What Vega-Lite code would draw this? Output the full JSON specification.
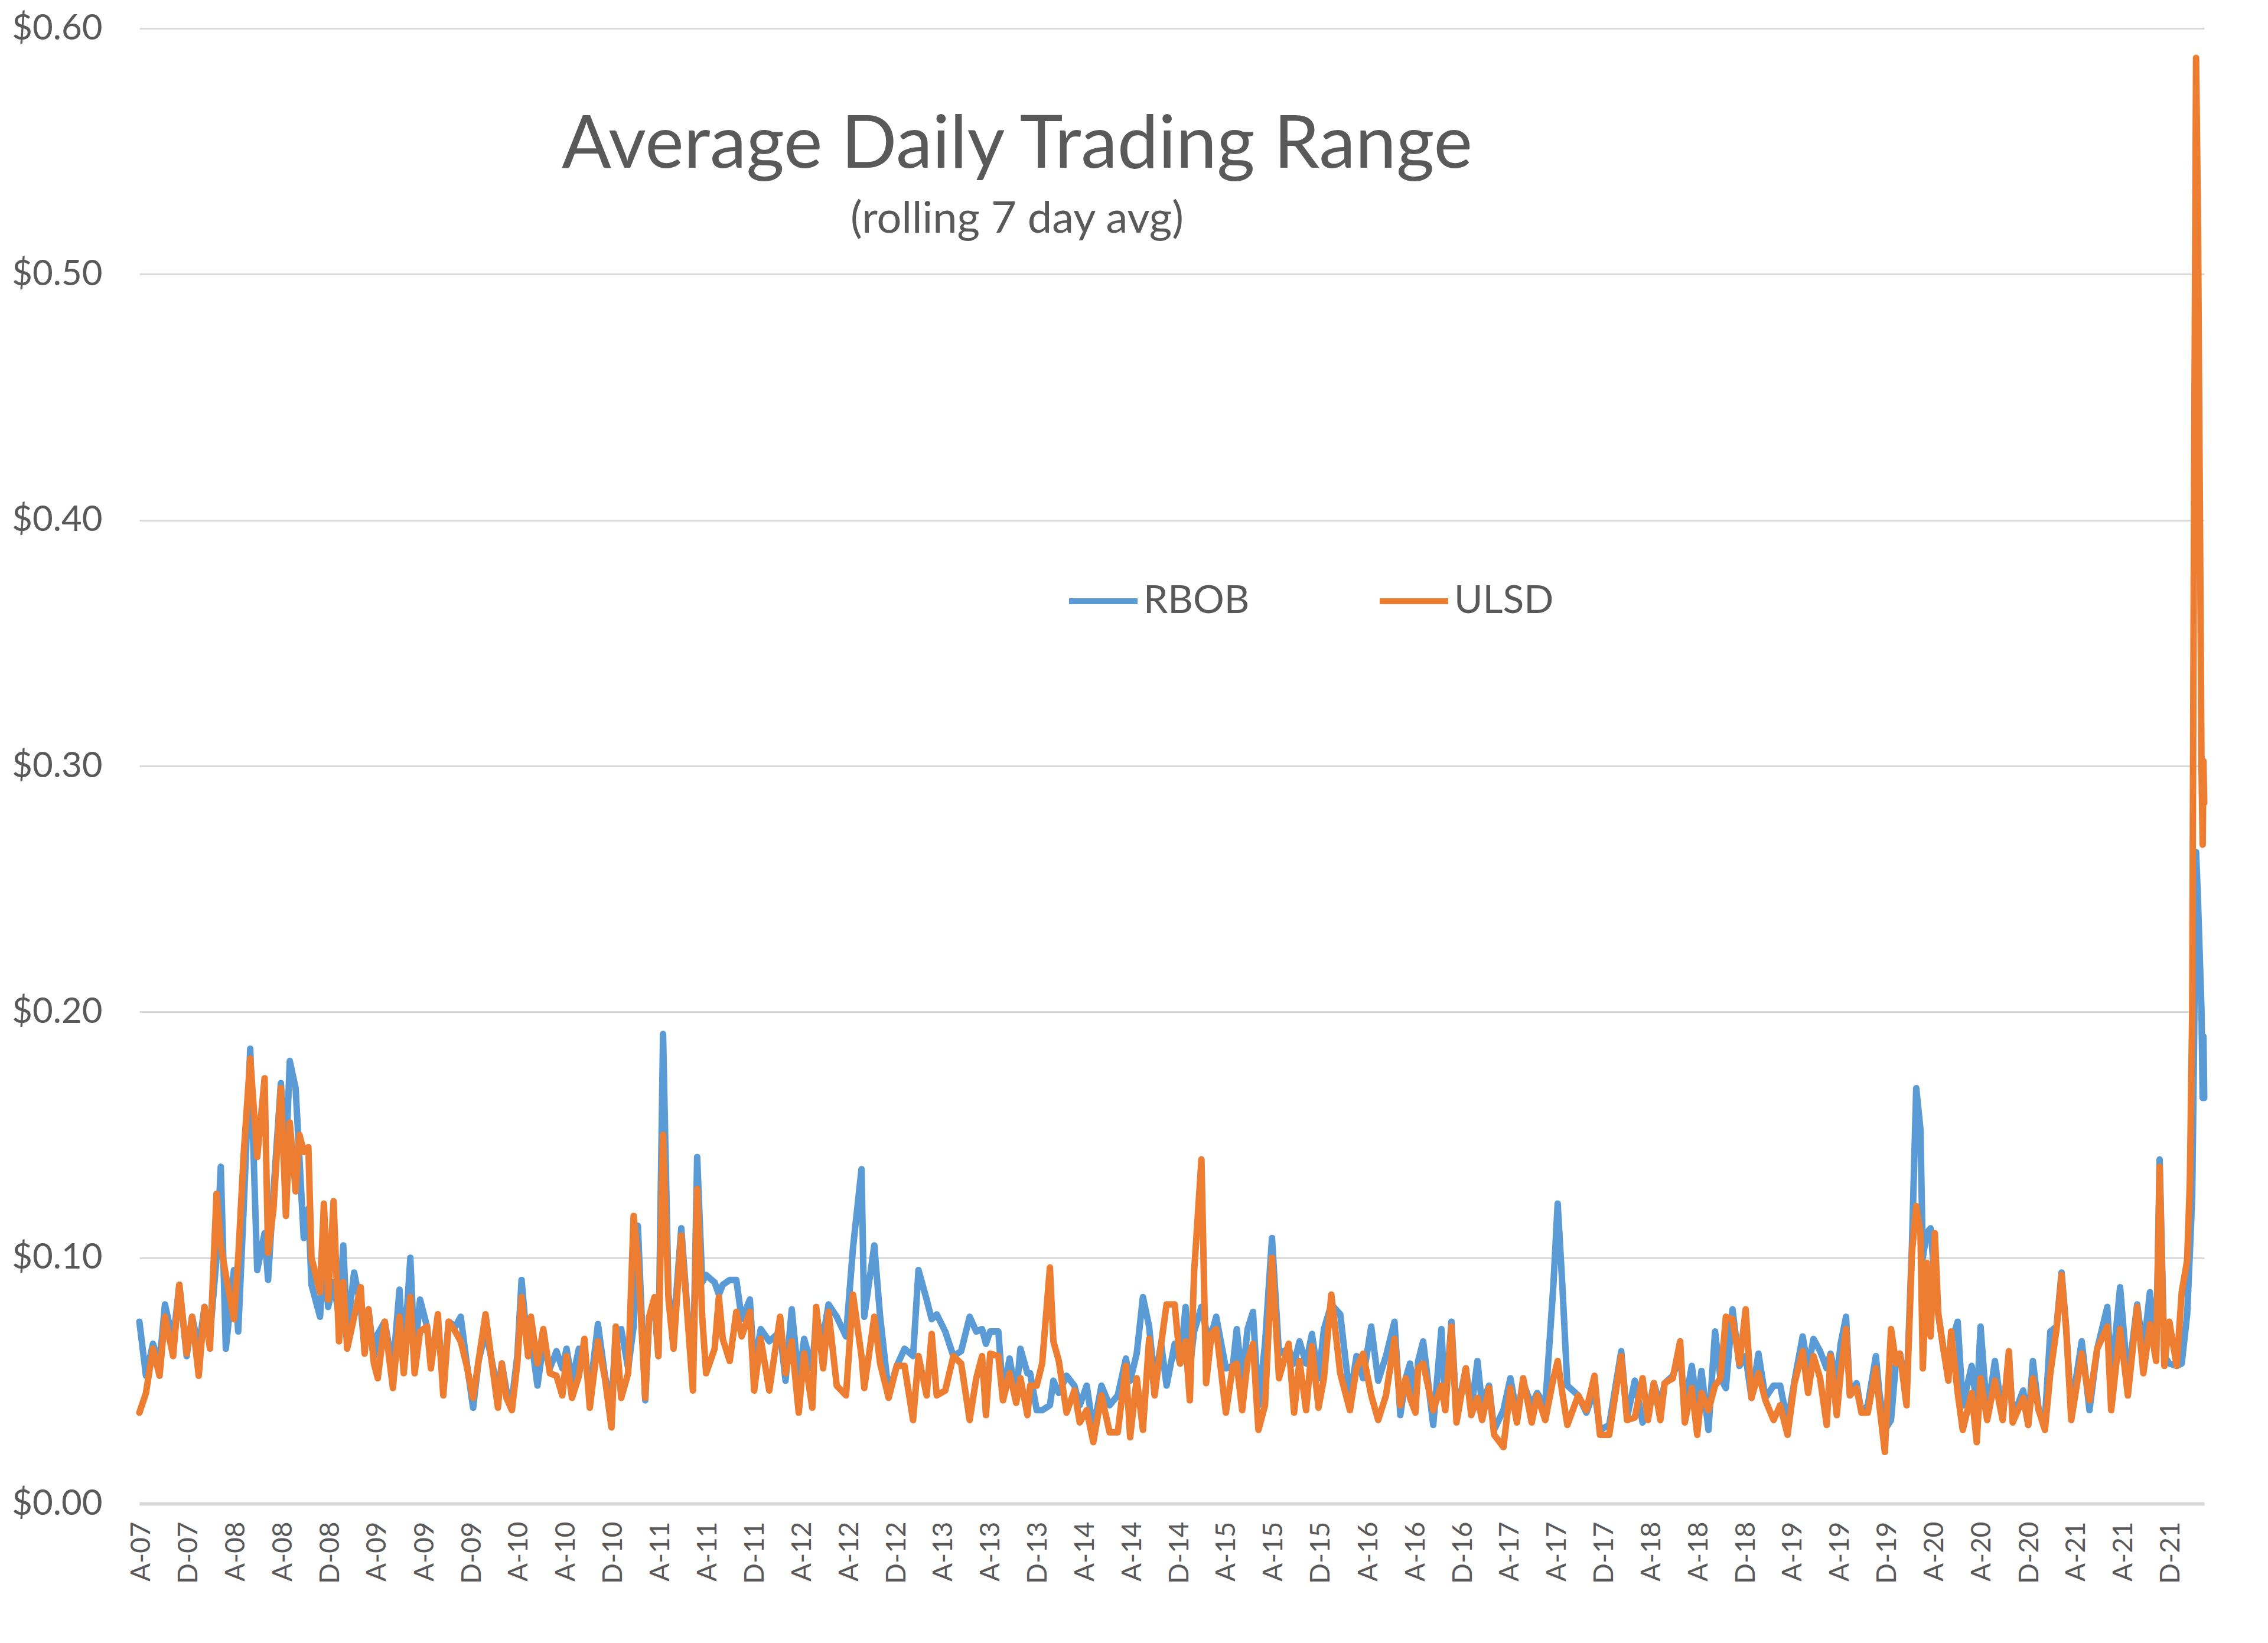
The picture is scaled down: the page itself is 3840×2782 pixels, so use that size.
{
  "$schema": "https://vega.github.io/schema/vega-lite/v6.json",
  "width": 3496,
  "height": 2498,
  "autosize": {"type": "none"},
  "padding": {"left": 236, "top": 48, "right": 108, "bottom": 236},
  "background": "white",
  "config": {"view": {"stroke": null}, "font": "Lato"},
  "title": {
    "text": "Average Daily Trading Range",
    "subtitle": "(rolling 7 day avg)",
    "font": "Lato",
    "fontSize": 124,
    "fontWeight": "normal",
    "color": "#595959",
    "subtitleFont": "Lato",
    "subtitleFontSize": 74,
    "subtitleColor": "#595959",
    "subtitlePadding": 26,
    "anchor": "middle",
    "frame": "group",
    "orient": "top",
    "offset": 0,
    "dx": -262,
    "dy": 392
  },
  "data": {
    "values": [
      {"date": "2007-07-27", "RBOB": 0.074, "ULSD": 0.037},
      {"date": "2007-08-13", "RBOB": 0.052, "ULSD": 0.045},
      {"date": "2007-08-31", "RBOB": 0.065, "ULSD": 0.063},
      {"date": "2007-09-17", "RBOB": 0.057, "ULSD": 0.052},
      {"date": "2007-10-01", "RBOB": 0.081, "ULSD": 0.076},
      {"date": "2007-10-22", "RBOB": 0.066, "ULSD": 0.060},
      {"date": "2007-11-07", "RBOB": 0.089, "ULSD": 0.089},
      {"date": "2007-11-26", "RBOB": 0.060, "ULSD": 0.061},
      {"date": "2007-12-10", "RBOB": 0.076, "ULSD": 0.076},
      {"date": "2007-12-27", "RBOB": 0.063, "ULSD": 0.052},
      {"date": "2008-01-11", "RBOB": 0.080, "ULSD": 0.080},
      {"date": "2008-01-25", "RBOB": 0.068, "ULSD": 0.063},
      {"date": "2008-02-11", "RBOB": 0.100, "ULSD": 0.126},
      {"date": "2008-02-22", "RBOB": 0.137, "ULSD": 0.105},
      {"date": "2008-03-06", "RBOB": 0.063, "ULSD": 0.093},
      {"date": "2008-03-27", "RBOB": 0.095, "ULSD": 0.075},
      {"date": "2008-04-07", "RBOB": 0.070, "ULSD": 0.100},
      {"date": "2008-04-21", "RBOB": 0.120, "ULSD": 0.142},
      {"date": "2008-05-08", "RBOB": 0.185, "ULSD": 0.181},
      {"date": "2008-05-26", "RBOB": 0.095, "ULSD": 0.141},
      {"date": "2008-06-14", "RBOB": 0.110, "ULSD": 0.173},
      {"date": "2008-06-23", "RBOB": 0.091, "ULSD": 0.102},
      {"date": "2008-07-07", "RBOB": 0.127, "ULSD": 0.120},
      {"date": "2008-07-26", "RBOB": 0.171, "ULSD": 0.169},
      {"date": "2008-08-08", "RBOB": 0.140, "ULSD": 0.117},
      {"date": "2008-08-18", "RBOB": 0.180, "ULSD": 0.155},
      {"date": "2008-09-02", "RBOB": 0.169, "ULSD": 0.127},
      {"date": "2008-09-12", "RBOB": 0.140, "ULSD": 0.150},
      {"date": "2008-09-23", "RBOB": 0.108, "ULSD": 0.143},
      {"date": "2008-10-05", "RBOB": 0.120, "ULSD": 0.145},
      {"date": "2008-10-13", "RBOB": 0.089, "ULSD": 0.100},
      {"date": "2008-11-04", "RBOB": 0.076, "ULSD": 0.086},
      {"date": "2008-11-14", "RBOB": 0.100, "ULSD": 0.122},
      {"date": "2008-11-25", "RBOB": 0.080, "ULSD": 0.083},
      {"date": "2008-12-09", "RBOB": 0.090, "ULSD": 0.123},
      {"date": "2008-12-23", "RBOB": 0.076, "ULSD": 0.066},
      {"date": "2009-01-03", "RBOB": 0.105, "ULSD": 0.090},
      {"date": "2009-01-13", "RBOB": 0.070, "ULSD": 0.063},
      {"date": "2009-01-31", "RBOB": 0.094, "ULSD": 0.076},
      {"date": "2009-02-17", "RBOB": 0.080, "ULSD": 0.088},
      {"date": "2009-02-27", "RBOB": 0.063, "ULSD": 0.061},
      {"date": "2009-03-09", "RBOB": 0.079, "ULSD": 0.079},
      {"date": "2009-03-23", "RBOB": 0.060, "ULSD": 0.057},
      {"date": "2009-04-02", "RBOB": 0.069, "ULSD": 0.051},
      {"date": "2009-04-20", "RBOB": 0.074, "ULSD": 0.074},
      {"date": "2009-05-11", "RBOB": 0.055, "ULSD": 0.047},
      {"date": "2009-05-28", "RBOB": 0.087, "ULSD": 0.076},
      {"date": "2009-06-08", "RBOB": 0.058, "ULSD": 0.053},
      {"date": "2009-06-25", "RBOB": 0.100, "ULSD": 0.084},
      {"date": "2009-07-06", "RBOB": 0.060, "ULSD": 0.053},
      {"date": "2009-07-20", "RBOB": 0.083, "ULSD": 0.070},
      {"date": "2009-08-07", "RBOB": 0.072, "ULSD": 0.072},
      {"date": "2009-08-17", "RBOB": 0.058, "ULSD": 0.055},
      {"date": "2009-09-04", "RBOB": 0.072, "ULSD": 0.077},
      {"date": "2009-09-18", "RBOB": 0.050, "ULSD": 0.044},
      {"date": "2009-10-02", "RBOB": 0.074, "ULSD": 0.074},
      {"date": "2009-10-19", "RBOB": 0.072, "ULSD": 0.070},
      {"date": "2009-11-02", "RBOB": 0.076, "ULSD": 0.066},
      {"date": "2009-11-16", "RBOB": 0.059, "ULSD": 0.057},
      {"date": "2009-12-04", "RBOB": 0.039, "ULSD": 0.043},
      {"date": "2009-12-18", "RBOB": 0.058, "ULSD": 0.058},
      {"date": "2010-01-05", "RBOB": 0.070, "ULSD": 0.077},
      {"date": "2010-01-19", "RBOB": 0.060, "ULSD": 0.060},
      {"date": "2010-02-06", "RBOB": 0.045, "ULSD": 0.039},
      {"date": "2010-02-16", "RBOB": 0.057, "ULSD": 0.057},
      {"date": "2010-02-28", "RBOB": 0.046, "ULSD": 0.043},
      {"date": "2010-03-14", "RBOB": 0.042, "ULSD": 0.038},
      {"date": "2010-03-28", "RBOB": 0.060, "ULSD": 0.057},
      {"date": "2010-04-08", "RBOB": 0.091, "ULSD": 0.084},
      {"date": "2010-04-25", "RBOB": 0.060, "ULSD": 0.060},
      {"date": "2010-05-02", "RBOB": 0.068, "ULSD": 0.076},
      {"date": "2010-05-19", "RBOB": 0.048, "ULSD": 0.057},
      {"date": "2010-06-03", "RBOB": 0.065, "ULSD": 0.071},
      {"date": "2010-06-20", "RBOB": 0.055, "ULSD": 0.053},
      {"date": "2010-07-07", "RBOB": 0.062, "ULSD": 0.052},
      {"date": "2010-07-22", "RBOB": 0.055, "ULSD": 0.044},
      {"date": "2010-08-02", "RBOB": 0.063, "ULSD": 0.060},
      {"date": "2010-08-16", "RBOB": 0.050, "ULSD": 0.043},
      {"date": "2010-09-03", "RBOB": 0.063, "ULSD": 0.052},
      {"date": "2010-09-17", "RBOB": 0.062, "ULSD": 0.067},
      {"date": "2010-10-01", "RBOB": 0.045, "ULSD": 0.039},
      {"date": "2010-10-22", "RBOB": 0.073, "ULSD": 0.066},
      {"date": "2010-11-09", "RBOB": 0.052, "ULSD": 0.051},
      {"date": "2010-11-26", "RBOB": 0.040, "ULSD": 0.031},
      {"date": "2010-12-07", "RBOB": 0.070, "ULSD": 0.072},
      {"date": "2010-12-21", "RBOB": 0.071, "ULSD": 0.043},
      {"date": "2011-01-08", "RBOB": 0.055, "ULSD": 0.053},
      {"date": "2011-01-22", "RBOB": 0.072, "ULSD": 0.117},
      {"date": "2011-02-02", "RBOB": 0.113, "ULSD": 0.100},
      {"date": "2011-02-21", "RBOB": 0.042, "ULSD": 0.043},
      {"date": "2011-03-03", "RBOB": 0.076, "ULSD": 0.076},
      {"date": "2011-03-17", "RBOB": 0.080, "ULSD": 0.084},
      {"date": "2011-03-27", "RBOB": 0.060, "ULSD": 0.060},
      {"date": "2011-04-08", "RBOB": 0.191, "ULSD": 0.150},
      {"date": "2011-04-22", "RBOB": 0.085, "ULSD": 0.083},
      {"date": "2011-05-05", "RBOB": 0.070, "ULSD": 0.063},
      {"date": "2011-05-25", "RBOB": 0.112, "ULSD": 0.109},
      {"date": "2011-06-10", "RBOB": 0.078, "ULSD": 0.076},
      {"date": "2011-06-24", "RBOB": 0.050, "ULSD": 0.046},
      {"date": "2011-07-05", "RBOB": 0.141, "ULSD": 0.128},
      {"date": "2011-07-18", "RBOB": 0.090, "ULSD": 0.076},
      {"date": "2011-07-28", "RBOB": 0.093, "ULSD": 0.053},
      {"date": "2011-08-19", "RBOB": 0.090, "ULSD": 0.063},
      {"date": "2011-08-30", "RBOB": 0.085, "ULSD": 0.084},
      {"date": "2011-09-09", "RBOB": 0.089, "ULSD": 0.067},
      {"date": "2011-09-27", "RBOB": 0.091, "ULSD": 0.058},
      {"date": "2011-10-14", "RBOB": 0.091, "ULSD": 0.078},
      {"date": "2011-10-28", "RBOB": 0.075, "ULSD": 0.068},
      {"date": "2011-11-18", "RBOB": 0.083, "ULSD": 0.078},
      {"date": "2011-11-29", "RBOB": 0.055, "ULSD": 0.046},
      {"date": "2011-12-16", "RBOB": 0.071, "ULSD": 0.067},
      {"date": "2012-01-07", "RBOB": 0.066, "ULSD": 0.046},
      {"date": "2012-02-04", "RBOB": 0.070, "ULSD": 0.076},
      {"date": "2012-02-18", "RBOB": 0.050, "ULSD": 0.053},
      {"date": "2012-03-05", "RBOB": 0.079, "ULSD": 0.066},
      {"date": "2012-03-23", "RBOB": 0.050, "ULSD": 0.037},
      {"date": "2012-04-06", "RBOB": 0.067, "ULSD": 0.061},
      {"date": "2012-04-27", "RBOB": 0.055, "ULSD": 0.039},
      {"date": "2012-05-07", "RBOB": 0.075, "ULSD": 0.080},
      {"date": "2012-05-25", "RBOB": 0.068, "ULSD": 0.055},
      {"date": "2012-06-08", "RBOB": 0.081, "ULSD": 0.078},
      {"date": "2012-06-29", "RBOB": 0.076, "ULSD": 0.048},
      {"date": "2012-07-23", "RBOB": 0.068, "ULSD": 0.044},
      {"date": "2012-08-10", "RBOB": 0.104, "ULSD": 0.085},
      {"date": "2012-09-01", "RBOB": 0.136, "ULSD": 0.060},
      {"date": "2012-09-08", "RBOB": 0.076, "ULSD": 0.047},
      {"date": "2012-10-04", "RBOB": 0.105, "ULSD": 0.076},
      {"date": "2012-10-19", "RBOB": 0.076, "ULSD": 0.057},
      {"date": "2012-11-10", "RBOB": 0.045, "ULSD": 0.043},
      {"date": "2012-12-01", "RBOB": 0.056, "ULSD": 0.056},
      {"date": "2012-12-21", "RBOB": 0.063, "ULSD": 0.056},
      {"date": "2013-01-12", "RBOB": 0.060, "ULSD": 0.034},
      {"date": "2013-01-26", "RBOB": 0.095, "ULSD": 0.060},
      {"date": "2013-02-16", "RBOB": 0.083, "ULSD": 0.044},
      {"date": "2013-03-01", "RBOB": 0.075, "ULSD": 0.069},
      {"date": "2013-03-14", "RBOB": 0.077, "ULSD": 0.044},
      {"date": "2013-04-05", "RBOB": 0.070, "ULSD": 0.046},
      {"date": "2013-04-26", "RBOB": 0.060, "ULSD": 0.060},
      {"date": "2013-05-16", "RBOB": 0.062, "ULSD": 0.057},
      {"date": "2013-06-07", "RBOB": 0.076, "ULSD": 0.034},
      {"date": "2013-06-24", "RBOB": 0.070, "ULSD": 0.051},
      {"date": "2013-07-09", "RBOB": 0.071, "ULSD": 0.060},
      {"date": "2013-07-19", "RBOB": 0.065, "ULSD": 0.036},
      {"date": "2013-07-30", "RBOB": 0.070, "ULSD": 0.061},
      {"date": "2013-08-20", "RBOB": 0.070, "ULSD": 0.060},
      {"date": "2013-09-01", "RBOB": 0.045, "ULSD": 0.042},
      {"date": "2013-09-18", "RBOB": 0.059, "ULSD": 0.053},
      {"date": "2013-10-05", "RBOB": 0.044, "ULSD": 0.041},
      {"date": "2013-10-16", "RBOB": 0.063, "ULSD": 0.051},
      {"date": "2013-11-03", "RBOB": 0.053, "ULSD": 0.036},
      {"date": "2013-11-10", "RBOB": 0.053, "ULSD": 0.048},
      {"date": "2013-11-27", "RBOB": 0.038, "ULSD": 0.048},
      {"date": "2013-12-11", "RBOB": 0.038, "ULSD": 0.057},
      {"date": "2013-12-31", "RBOB": 0.040, "ULSD": 0.096},
      {"date": "2014-01-09", "RBOB": 0.050, "ULSD": 0.066},
      {"date": "2014-01-23", "RBOB": 0.045, "ULSD": 0.058},
      {"date": "2014-02-12", "RBOB": 0.052, "ULSD": 0.037},
      {"date": "2014-03-04", "RBOB": 0.048, "ULSD": 0.046},
      {"date": "2014-03-18", "RBOB": 0.040, "ULSD": 0.033},
      {"date": "2014-04-05", "RBOB": 0.048, "ULSD": 0.038},
      {"date": "2014-04-22", "RBOB": 0.030, "ULSD": 0.025},
      {"date": "2014-05-13", "RBOB": 0.048, "ULSD": 0.044},
      {"date": "2014-06-03", "RBOB": 0.040, "ULSD": 0.029},
      {"date": "2014-06-24", "RBOB": 0.044, "ULSD": 0.029},
      {"date": "2014-07-15", "RBOB": 0.059, "ULSD": 0.056},
      {"date": "2014-07-26", "RBOB": 0.050, "ULSD": 0.027},
      {"date": "2014-08-12", "RBOB": 0.061, "ULSD": 0.051},
      {"date": "2014-08-28", "RBOB": 0.084, "ULSD": 0.030},
      {"date": "2014-09-13", "RBOB": 0.072, "ULSD": 0.067},
      {"date": "2014-09-27", "RBOB": 0.050, "ULSD": 0.044},
      {"date": "2014-10-14", "RBOB": 0.065, "ULSD": 0.065},
      {"date": "2014-10-28", "RBOB": 0.048, "ULSD": 0.081},
      {"date": "2014-11-18", "RBOB": 0.065, "ULSD": 0.081},
      {"date": "2014-12-02", "RBOB": 0.057, "ULSD": 0.057},
      {"date": "2014-12-16", "RBOB": 0.080, "ULSD": 0.066},
      {"date": "2014-12-27", "RBOB": 0.055, "ULSD": 0.042},
      {"date": "2015-01-07", "RBOB": 0.070, "ULSD": 0.094},
      {"date": "2015-01-26", "RBOB": 0.080, "ULSD": 0.140},
      {"date": "2015-02-07", "RBOB": 0.071, "ULSD": 0.049},
      {"date": "2015-02-21", "RBOB": 0.069, "ULSD": 0.069},
      {"date": "2015-03-05", "RBOB": 0.076, "ULSD": 0.071},
      {"date": "2015-03-30", "RBOB": 0.055, "ULSD": 0.037},
      {"date": "2015-04-17", "RBOB": 0.056, "ULSD": 0.056},
      {"date": "2015-04-27", "RBOB": 0.071, "ULSD": 0.057},
      {"date": "2015-05-11", "RBOB": 0.050, "ULSD": 0.038},
      {"date": "2015-05-25", "RBOB": 0.071, "ULSD": 0.058},
      {"date": "2015-06-08", "RBOB": 0.078, "ULSD": 0.065},
      {"date": "2015-06-22", "RBOB": 0.040, "ULSD": 0.030},
      {"date": "2015-07-09", "RBOB": 0.065, "ULSD": 0.040},
      {"date": "2015-07-27", "RBOB": 0.108, "ULSD": 0.100},
      {"date": "2015-08-14", "RBOB": 0.061, "ULSD": 0.051},
      {"date": "2015-09-08", "RBOB": 0.063, "ULSD": 0.065},
      {"date": "2015-09-22", "RBOB": 0.057, "ULSD": 0.037},
      {"date": "2015-10-06", "RBOB": 0.066, "ULSD": 0.058},
      {"date": "2015-10-23", "RBOB": 0.057, "ULSD": 0.038},
      {"date": "2015-11-07", "RBOB": 0.069, "ULSD": 0.064},
      {"date": "2015-11-24", "RBOB": 0.051, "ULSD": 0.039},
      {"date": "2015-12-08", "RBOB": 0.071, "ULSD": 0.051},
      {"date": "2015-12-27", "RBOB": 0.081, "ULSD": 0.085},
      {"date": "2016-01-19", "RBOB": 0.077, "ULSD": 0.053},
      {"date": "2016-02-13", "RBOB": 0.043, "ULSD": 0.038},
      {"date": "2016-03-01", "RBOB": 0.060, "ULSD": 0.055},
      {"date": "2016-03-18", "RBOB": 0.051, "ULSD": 0.061},
      {"date": "2016-04-08", "RBOB": 0.072, "ULSD": 0.044},
      {"date": "2016-04-26", "RBOB": 0.050, "ULSD": 0.034},
      {"date": "2016-05-16", "RBOB": 0.060, "ULSD": 0.044},
      {"date": "2016-06-07", "RBOB": 0.074, "ULSD": 0.067},
      {"date": "2016-06-22", "RBOB": 0.036, "ULSD": 0.040},
      {"date": "2016-07-06", "RBOB": 0.051, "ULSD": 0.051},
      {"date": "2016-07-17", "RBOB": 0.057, "ULSD": 0.043},
      {"date": "2016-07-31", "RBOB": 0.042, "ULSD": 0.037},
      {"date": "2016-08-07", "RBOB": 0.058, "ULSD": 0.055},
      {"date": "2016-08-20", "RBOB": 0.066, "ULSD": 0.057},
      {"date": "2016-09-15", "RBOB": 0.032, "ULSD": 0.038},
      {"date": "2016-10-06", "RBOB": 0.071, "ULSD": 0.048},
      {"date": "2016-10-16", "RBOB": 0.040, "ULSD": 0.038},
      {"date": "2016-11-01", "RBOB": 0.074, "ULSD": 0.072},
      {"date": "2016-11-14", "RBOB": 0.036, "ULSD": 0.033},
      {"date": "2016-12-08", "RBOB": 0.055, "ULSD": 0.055},
      {"date": "2016-12-22", "RBOB": 0.038, "ULSD": 0.036},
      {"date": "2017-01-07", "RBOB": 0.058, "ULSD": 0.043},
      {"date": "2017-01-19", "RBOB": 0.040, "ULSD": 0.034},
      {"date": "2017-02-06", "RBOB": 0.048, "ULSD": 0.047},
      {"date": "2017-02-19", "RBOB": 0.030, "ULSD": 0.028},
      {"date": "2017-03-15", "RBOB": 0.038, "ULSD": 0.023},
      {"date": "2017-04-02", "RBOB": 0.051, "ULSD": 0.047},
      {"date": "2017-04-19", "RBOB": 0.036, "ULSD": 0.033},
      {"date": "2017-05-05", "RBOB": 0.049, "ULSD": 0.051},
      {"date": "2017-05-27", "RBOB": 0.040, "ULSD": 0.033},
      {"date": "2017-06-10", "RBOB": 0.045, "ULSD": 0.044},
      {"date": "2017-07-01", "RBOB": 0.040, "ULSD": 0.034},
      {"date": "2017-07-22", "RBOB": 0.089, "ULSD": 0.051},
      {"date": "2017-08-02", "RBOB": 0.122, "ULSD": 0.058},
      {"date": "2017-08-14", "RBOB": 0.089, "ULSD": 0.045},
      {"date": "2017-08-27", "RBOB": 0.048, "ULSD": 0.032},
      {"date": "2017-09-24", "RBOB": 0.044, "ULSD": 0.044},
      {"date": "2017-10-15", "RBOB": 0.037, "ULSD": 0.038},
      {"date": "2017-11-05", "RBOB": 0.046, "ULSD": 0.052},
      {"date": "2017-11-19", "RBOB": 0.030, "ULSD": 0.028},
      {"date": "2017-12-13", "RBOB": 0.032, "ULSD": 0.028},
      {"date": "2018-01-13", "RBOB": 0.062, "ULSD": 0.060},
      {"date": "2018-01-28", "RBOB": 0.035, "ULSD": 0.034},
      {"date": "2018-02-17", "RBOB": 0.050, "ULSD": 0.035},
      {"date": "2018-03-09", "RBOB": 0.033, "ULSD": 0.051},
      {"date": "2018-03-23", "RBOB": 0.036, "ULSD": 0.034},
      {"date": "2018-04-07", "RBOB": 0.049, "ULSD": 0.049},
      {"date": "2018-04-24", "RBOB": 0.040, "ULSD": 0.034},
      {"date": "2018-05-05", "RBOB": 0.049, "ULSD": 0.049},
      {"date": "2018-05-26", "RBOB": 0.052, "ULSD": 0.051},
      {"date": "2018-06-14", "RBOB": 0.060, "ULSD": 0.066},
      {"date": "2018-06-26", "RBOB": 0.040, "ULSD": 0.033},
      {"date": "2018-07-14", "RBOB": 0.056, "ULSD": 0.047},
      {"date": "2018-07-28", "RBOB": 0.040, "ULSD": 0.028},
      {"date": "2018-08-08", "RBOB": 0.054, "ULSD": 0.045},
      {"date": "2018-08-26", "RBOB": 0.030, "ULSD": 0.038},
      {"date": "2018-09-12", "RBOB": 0.070, "ULSD": 0.048},
      {"date": "2018-09-26", "RBOB": 0.051, "ULSD": 0.051},
      {"date": "2018-10-10", "RBOB": 0.047, "ULSD": 0.076},
      {"date": "2018-10-27", "RBOB": 0.079, "ULSD": 0.075},
      {"date": "2018-11-14", "RBOB": 0.056, "ULSD": 0.057},
      {"date": "2018-11-30", "RBOB": 0.060, "ULSD": 0.079},
      {"date": "2018-12-15", "RBOB": 0.043, "ULSD": 0.043},
      {"date": "2019-01-02", "RBOB": 0.061, "ULSD": 0.053},
      {"date": "2019-01-20", "RBOB": 0.043, "ULSD": 0.042},
      {"date": "2019-02-10", "RBOB": 0.048, "ULSD": 0.034},
      {"date": "2019-02-27", "RBOB": 0.048, "ULSD": 0.040},
      {"date": "2019-03-18", "RBOB": 0.033, "ULSD": 0.028},
      {"date": "2019-04-05", "RBOB": 0.050, "ULSD": 0.049},
      {"date": "2019-04-26", "RBOB": 0.068, "ULSD": 0.062},
      {"date": "2019-05-10", "RBOB": 0.055, "ULSD": 0.045},
      {"date": "2019-05-24", "RBOB": 0.067, "ULSD": 0.060},
      {"date": "2019-06-10", "RBOB": 0.062, "ULSD": 0.051},
      {"date": "2019-06-27", "RBOB": 0.055, "ULSD": 0.032},
      {"date": "2019-07-07", "RBOB": 0.061, "ULSD": 0.060},
      {"date": "2019-07-23", "RBOB": 0.050, "ULSD": 0.036},
      {"date": "2019-08-02", "RBOB": 0.065, "ULSD": 0.053},
      {"date": "2019-08-16", "RBOB": 0.076, "ULSD": 0.071},
      {"date": "2019-08-26", "RBOB": 0.044, "ULSD": 0.044},
      {"date": "2019-09-12", "RBOB": 0.049, "ULSD": 0.047},
      {"date": "2019-09-25", "RBOB": 0.037, "ULSD": 0.037},
      {"date": "2019-10-11", "RBOB": 0.040, "ULSD": 0.037},
      {"date": "2019-11-01", "RBOB": 0.060, "ULSD": 0.055},
      {"date": "2019-11-10", "RBOB": 0.045, "ULSD": 0.040},
      {"date": "2019-11-24", "RBOB": 0.030, "ULSD": 0.021},
      {"date": "2019-12-10", "RBOB": 0.034, "ULSD": 0.071},
      {"date": "2019-12-23", "RBOB": 0.058, "ULSD": 0.057},
      {"date": "2020-01-02", "RBOB": 0.061, "ULSD": 0.061},
      {"date": "2020-01-19", "RBOB": 0.045, "ULSD": 0.040},
      {"date": "2020-02-02", "RBOB": 0.105, "ULSD": 0.102},
      {"date": "2020-02-13", "RBOB": 0.169, "ULSD": 0.121},
      {"date": "2020-02-24", "RBOB": 0.152, "ULSD": 0.110},
      {"date": "2020-03-01", "RBOB": 0.100, "ULSD": 0.055},
      {"date": "2020-03-11", "RBOB": 0.110, "ULSD": 0.098},
      {"date": "2020-03-21", "RBOB": 0.112, "ULSD": 0.068},
      {"date": "2020-04-01", "RBOB": 0.090, "ULSD": 0.110},
      {"date": "2020-04-10", "RBOB": 0.077, "ULSD": 0.077},
      {"date": "2020-04-23", "RBOB": 0.063, "ULSD": 0.063},
      {"date": "2020-05-06", "RBOB": 0.053, "ULSD": 0.050},
      {"date": "2020-05-13", "RBOB": 0.065, "ULSD": 0.070},
      {"date": "2020-05-30", "RBOB": 0.074, "ULSD": 0.045},
      {"date": "2020-06-12", "RBOB": 0.040, "ULSD": 0.030},
      {"date": "2020-07-05", "RBOB": 0.056, "ULSD": 0.045},
      {"date": "2020-07-18", "RBOB": 0.040, "ULSD": 0.025},
      {"date": "2020-07-28", "RBOB": 0.072, "ULSD": 0.051},
      {"date": "2020-08-14", "RBOB": 0.036, "ULSD": 0.034},
      {"date": "2020-09-03", "RBOB": 0.058, "ULSD": 0.050},
      {"date": "2020-09-23", "RBOB": 0.035, "ULSD": 0.034},
      {"date": "2020-10-09", "RBOB": 0.060, "ULSD": 0.062},
      {"date": "2020-10-19", "RBOB": 0.035, "ULSD": 0.033},
      {"date": "2020-11-15", "RBOB": 0.046, "ULSD": 0.043},
      {"date": "2020-11-28", "RBOB": 0.032, "ULSD": 0.032},
      {"date": "2020-12-10", "RBOB": 0.058, "ULSD": 0.051},
      {"date": "2020-12-25", "RBOB": 0.038, "ULSD": 0.038},
      {"date": "2021-01-10", "RBOB": 0.034, "ULSD": 0.030},
      {"date": "2021-01-24", "RBOB": 0.070, "ULSD": 0.053},
      {"date": "2021-02-09", "RBOB": 0.072, "ULSD": 0.071},
      {"date": "2021-02-22", "RBOB": 0.094, "ULSD": 0.093},
      {"date": "2021-03-06", "RBOB": 0.071, "ULSD": 0.071},
      {"date": "2021-03-19", "RBOB": 0.038, "ULSD": 0.034},
      {"date": "2021-04-15", "RBOB": 0.066, "ULSD": 0.061},
      {"date": "2021-05-05", "RBOB": 0.038, "ULSD": 0.042},
      {"date": "2021-05-25", "RBOB": 0.063, "ULSD": 0.063},
      {"date": "2021-06-20", "RBOB": 0.080, "ULSD": 0.072},
      {"date": "2021-06-30", "RBOB": 0.050, "ULSD": 0.038},
      {"date": "2021-07-23", "RBOB": 0.088, "ULSD": 0.071},
      {"date": "2021-08-12", "RBOB": 0.050, "ULSD": 0.044},
      {"date": "2021-09-05", "RBOB": 0.081, "ULSD": 0.080},
      {"date": "2021-09-21", "RBOB": 0.062, "ULSD": 0.053},
      {"date": "2021-10-08", "RBOB": 0.086, "ULSD": 0.073},
      {"date": "2021-10-24", "RBOB": 0.060, "ULSD": 0.058},
      {"date": "2021-11-02", "RBOB": 0.140, "ULSD": 0.137},
      {"date": "2021-11-14", "RBOB": 0.060, "ULSD": 0.056},
      {"date": "2021-11-27", "RBOB": 0.057, "ULSD": 0.074},
      {"date": "2021-12-16", "RBOB": 0.056, "ULSD": 0.056},
      {"date": "2021-12-29", "RBOB": 0.057, "ULSD": 0.086},
      {"date": "2022-01-12", "RBOB": 0.077, "ULSD": 0.099},
      {"date": "2022-01-19", "RBOB": 0.102, "ULSD": 0.131},
      {"date": "2022-01-25", "RBOB": 0.125, "ULSD": 0.200},
      {"date": "2022-01-30", "RBOB": 0.190, "ULSD": 0.420},
      {"date": "2022-02-04", "RBOB": 0.265, "ULSD": 0.588},
      {"date": "2022-02-09", "RBOB": 0.245, "ULSD": 0.520},
      {"date": "2022-02-14", "RBOB": 0.220, "ULSD": 0.400},
      {"date": "2022-02-18", "RBOB": 0.200, "ULSD": 0.300},
      {"date": "2022-02-21", "RBOB": 0.165, "ULSD": 0.268},
      {"date": "2022-02-23", "RBOB": 0.190, "ULSD": 0.302},
      {"date": "2022-02-25", "RBOB": 0.165, "ULSD": 0.285}
    ]
  },
  "transform": [{"fold": ["RBOB", "ULSD"], "as": ["series", "value"]}],
  "mark": {"type": "line", "strokeWidth": 11, "strokeJoin": "round", "strokeCap": "round"},
  "encoding": {
    "x": {
      "field": "date",
      "type": "temporal",
      "scale": {"domain": [{"year": 2007, "month": 7, "date": 27}, {"year": 2022, "month": 2, "date": 25}], "nice": false},
      "axis": {
        "title": null,
        "values": [
          {"year": 2007, "month": 8, "date": 1}, {"year": 2007, "month": 12, "date": 1},
          {"year": 2008, "month": 4, "date": 1}, {"year": 2008, "month": 8, "date": 1}, {"year": 2008, "month": 12, "date": 1},
          {"year": 2009, "month": 4, "date": 1}, {"year": 2009, "month": 8, "date": 1}, {"year": 2009, "month": 12, "date": 1},
          {"year": 2010, "month": 4, "date": 1}, {"year": 2010, "month": 8, "date": 1}, {"year": 2010, "month": 12, "date": 1},
          {"year": 2011, "month": 4, "date": 1}, {"year": 2011, "month": 8, "date": 1}, {"year": 2011, "month": 12, "date": 1},
          {"year": 2012, "month": 4, "date": 1}, {"year": 2012, "month": 8, "date": 1}, {"year": 2012, "month": 12, "date": 1},
          {"year": 2013, "month": 4, "date": 1}, {"year": 2013, "month": 8, "date": 1}, {"year": 2013, "month": 12, "date": 1},
          {"year": 2014, "month": 4, "date": 1}, {"year": 2014, "month": 8, "date": 1}, {"year": 2014, "month": 12, "date": 1},
          {"year": 2015, "month": 4, "date": 1}, {"year": 2015, "month": 8, "date": 1}, {"year": 2015, "month": 12, "date": 1},
          {"year": 2016, "month": 4, "date": 1}, {"year": 2016, "month": 8, "date": 1}, {"year": 2016, "month": 12, "date": 1},
          {"year": 2017, "month": 4, "date": 1}, {"year": 2017, "month": 8, "date": 1}, {"year": 2017, "month": 12, "date": 1},
          {"year": 2018, "month": 4, "date": 1}, {"year": 2018, "month": 8, "date": 1}, {"year": 2018, "month": 12, "date": 1},
          {"year": 2019, "month": 4, "date": 1}, {"year": 2019, "month": 8, "date": 1}, {"year": 2019, "month": 12, "date": 1},
          {"year": 2020, "month": 4, "date": 1}, {"year": 2020, "month": 8, "date": 1}, {"year": 2020, "month": 12, "date": 1},
          {"year": 2021, "month": 4, "date": 1}, {"year": 2021, "month": 8, "date": 1}, {"year": 2021, "month": 12, "date": 1}
        ],
        "labelExpr": "substring(timeFormat(datum.value, '%b'), 0, 1) + '-' + timeFormat(datum.value, '%y')",
        "labelAngle": 270,
        "labelFont": "Lato",
        "labelFontSize": 46,
        "labelColor": "#595959",
        "labelPadding": 30,
        "labelOverlap": false,
        "labelFlush": false,
        "labelBound": false,
        "ticks": false,
        "grid": false,
        "domain": true,
        "domainColor": "#D9D9D9",
        "domainWidth": 6
      }
    },
    "y": {
      "field": "value",
      "type": "quantitative",
      "scale": {"domain": [0, 0.6], "nice": false, "zero": true},
      "axis": {
        "title": null,
        "values": [0, 0.1, 0.2, 0.3, 0.4, 0.5, 0.6],
        "format": "$.2f",
        "labelFont": "Lato",
        "labelFontSize": 60,
        "labelColor": "#595959",
        "labelPadding": 63,
        "ticks": false,
        "domain": false,
        "grid": true,
        "gridColor": "#D9D9D9",
        "gridWidth": 3
      }
    },
    "color": {
      "field": "series",
      "type": "nominal",
      "scale": {"domain": ["RBOB", "ULSD"], "range": ["#5B9BD5", "#ED7D31"]},
      "legend": {
        "title": null,
        "orient": "none",
        "legendX": 1569,
        "legendY": 907,
        "direction": "horizontal",
        "symbolType": "stroke",
        "symbolSize": 13456,
        "symbolStrokeWidth": 10,
        "labelFont": "Lato",
        "labelFontSize": 66,
        "labelColor": "#595959",
        "labelLimit": 0,
        "labelOffset": 5,
        "columnPadding": 200,
        "padding": 0
      }
    }
  }
}
